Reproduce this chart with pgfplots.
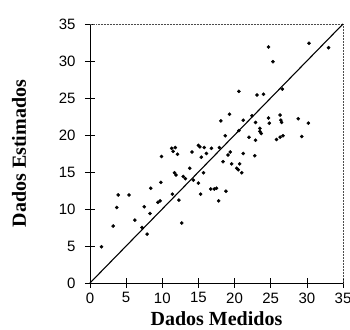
\documentclass[border=0pt]{standalone}
\usepackage{fontspec}
\setmainfont{Liberation Serif}
\newfontfamily\arial{Liberation Sans}
\usepackage{pgfplots}
\pgfplotsset{compat=1.18}
\begin{document}
\begin{tikzpicture}
\begin{axis}[
  scale only axis,
  width=253pt, height=259pt,
  xmin=0, xmax=35, ymin=0, ymax=35,
  axis lines=left,
  axis line style={-, black, line width=0.8pt},
  xtick={0,5,...,35}, ytick={0,5,...,35},
  tick align=center,
  major tick length=10pt,
  tick style={black, line width=0.5pt},
  /pgf/number format/assume math mode=true,
  ticklabel style={font=\fontsize{15}{15}\selectfont\arial},
  yticklabel style={xshift=-6pt},
  xticklabel style={yshift=-1pt},
  xlabel={Dados Medidos},
  ylabel={Dados Estimados},
  label style={font=\fontsize{20}{20}\selectfont\bfseries},
  xlabel style={at={(rel axis cs:0.5,0)}, anchor=center, yshift=-36pt},
  ylabel style={at={(rel axis cs:0,0.5)}, anchor=center, yshift=71pt},
  clip=false,
]
\draw[densely dotted, line width=0.5pt, black!70] (rel axis cs:0,1) -- (rel axis cs:1,1) -- (rel axis cs:1,0);
\coordinate (bl) at (rel axis cs:0,0);
\coordinate (tr) at (rel axis cs:1,1);
\addplot[only marks, mark=*, mark size=1.6pt, black] coordinates {
(1.6,4.9) (3.2,7.7) (3.7,10.2) (3.9,11.9) (5.4,11.9) (6.2,8.5) (7.2,7.5) (7.9,6.6)
(7.5,10.3) (8.3,9.4) (8.4,12.8) (9.4,10.9) (9.7,11.1) (9.8,13.6) (11.4,12.0) (12.3,11.2)
(12.7,8.1) (11.7,14.9) (11.9,14.6) (12.9,14.4) (13.2,14.1) (13.8,15.5) (14.3,13.9) (15.0,13.5)
(15.7,14.9) (15.3,12.0) (16.7,12.7) (17.2,12.7) (17.5,12.8) (18.8,12.4) (17.8,11.1) (9.9,17.1)
(11.3,18.2) (11.8,18.3) (11.5,17.8) (12.1,17.4) (14.1,17.7) (15.0,18.6) (15.2,18.4) (15.8,18.3)
(16.8,18.2) (16.1,17.5) (17.9,18.3) (15.4,17.0) (19.4,17.7) (19.1,17.3) (18.7,19.9) (18.1,21.9)
(19.3,22.8) (20.6,20.6) (18.4,16.4) (19.6,16.1) (20.3,15.5) (20.5,15.3) (20.7,16.1) (21.0,14.9)
(21.2,17.5) (22.8,17.2) (21.2,22.0) (22.4,22.6) (22.9,21.7) (24.7,22.3) (24.8,21.6) (26.3,22.7)
(26.4,22.0) (26.5,21.7) (28.8,22.2) (30.2,21.6) (22.0,19.7) (22.9,19.3) (23.5,20.9) (23.5,20.5)
(23.7,20.2) (25.8,19.4) (26.3,19.7) (26.7,19.9) (29.3,19.8) (20.6,25.9) (23.1,25.4) (24.0,25.5)
(26.6,26.2) (24.7,31.9) (25.3,29.9) (30.3,32.4) (33.0,31.8)
};
\addplot[black, line width=1.1pt] coordinates {(0,0) (35,35)};
\end{axis}
\pgfresetboundingbox
\path ([shift={(-90pt,-47pt)}]bl) rectangle ([shift={(7pt,24pt)}]tr);
\end{tikzpicture}
\end{document}
